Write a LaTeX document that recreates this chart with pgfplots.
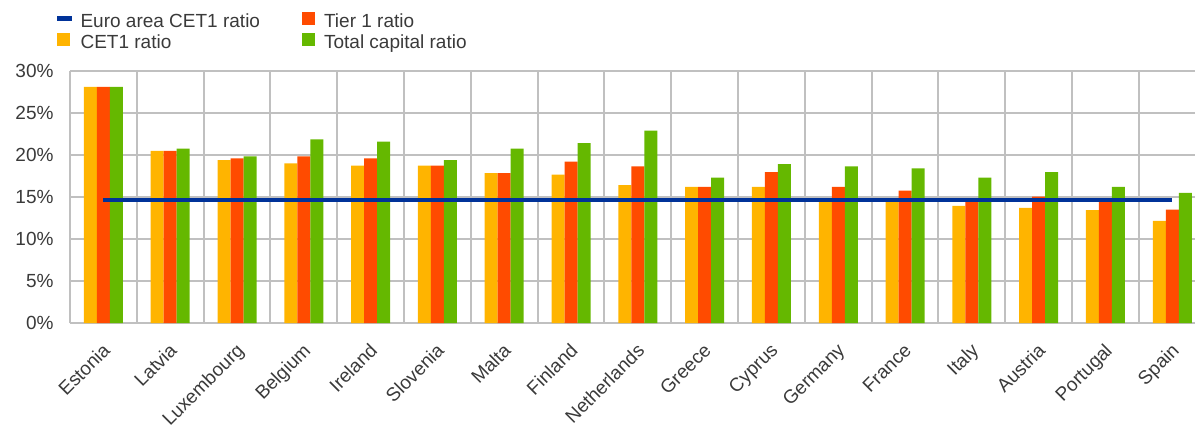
\documentclass[border=0pt]{standalone}
\usepackage{pgfplots}
\pgfplotsset{compat=1.18}
\usepackage{pgfplotstable}
\usepackage{fontspec}
\setmainfont{Liberation Sans}

\definecolor{ecbblue}{HTML}{003299}
\definecolor{ecbyellow}{HTML}{FFB400}
\definecolor{ecbred}{HTML}{FF4B00}
\definecolor{ecbgreen}{HTML}{65B800}
\definecolor{gridgray}{HTML}{C0C0C0}
\definecolor{txt}{HTML}{3A3A3A}

% capital ratios (%), one row per country
\pgfplotstableread{
x  cet1   tier1  total
0  28.1   28.1   28.1
1  20.5   20.5   20.75
2  19.4   19.6   19.85
3  19.0   19.85  21.85
4  18.75  19.6   21.6
5  18.75  18.75  19.4
6  17.85  17.85  20.75
7  17.65  19.2   21.4
8  16.4   18.65  22.9
9  16.2   16.2   17.3
10 16.2   17.95  18.9
11 14.55  16.2   18.65
12 14.55  15.75  18.4
13 13.95  14.6   17.3
14 13.7   15.05  17.95
15 13.45  14.6   16.2
16 12.15  13.5   15.5
}\capital

\newcommand{\fs}{\fontsize{19bp}{22bp}\selectfont}

\begin{document}
\begin{tikzpicture}
\useasboundingbox (-70bp,-102bp) rectangle (1125bp,323bp);
\begin{axis}[
    at={(0,0)}, anchor=south west,
    scale only axis, width=1125bp, height=252bp,
    xmin=-0.5, xmax=16.34, ymin=0, ymax=30,
    xtick={0,...,16},
    xticklabels={Estonia,Latvia,Luxembourg,Belgium,Ireland,Slovenia,Malta,Finland,Netherlands,Greece,Cyprus,Germany,France,Italy,Austria,Portugal,Spain},
    minor xtick={-0.5,0.5,...,15.5},
    ytick={0,5,...,30},
    yticklabel={\pgfmathprintnumber{\tick}\%},
    /pgf/number format/assume math mode=true,
    xminorgrids=true, ymajorgrids=true,
    grid style={gridgray, line width=2bp},
    minor grid style={gridgray, line width=2bp},
    axis line style={draw=none},
    tick style={draw=none}, major tick length=0pt, minor tick length=0pt,
    ticklabel style={font=\fs, text=txt},
    yticklabel style={xshift=-13bp},
    xticklabel style={xshift=-2bp, yshift=-19bp, rotate=45, anchor=north east, inner sep=0pt},
    legend columns=2, transpose legend,
    legend cell align=left,
    legend style={at={(-0.0116,1.236)}, anchor=north west, draw=none, fill=none,
        font=\fs, text=txt, inner sep=0pt, row sep=0bp,
        nodes={inner xsep=9bp, inner ysep=1bp, text height=14bp, text depth=4bp},
        /tikz/every even column/.append style={column sep=33bp}},
]
\addlegendimage{legend image code/.code={\fill[ecbblue] (0bp,3bp) rectangle (14bp,7bp);}}
\addlegendentry{Euro area CET1 ratio}
\addplot[ybar, bar width=13bp, bar shift=-13bp, fill=ecbyellow, draw=none,
    area legend, legend image code/.code={\fill[ecbyellow] (0bp,-2bp) rectangle (13bp,11bp);}]
    table[x=x, y=cet1] {\capital};
\addlegendentry{CET1 ratio}
\addplot[ybar, bar width=13bp, bar shift=0bp, fill=ecbred, draw=none,
    area legend, legend image code/.code={\fill[ecbred] (0bp,-2bp) rectangle (13bp,11bp);}]
    table[x=x, y=tier1] {\capital};
\addlegendentry{Tier 1 ratio}
\addplot[ybar, bar width=13bp, bar shift=13bp, fill=ecbgreen, draw=none,
    area legend, legend image code/.code={\fill[ecbgreen] (0bp,-2bp) rectangle (13bp,11bp);}]
    table[x=x, y=total] {\capital};
\addlegendentry{Total capital ratio}
\addplot[ecbblue, line width=4bp, forget plot] coordinates {(0,14.6) (16,14.6)};
\end{axis}
\end{tikzpicture}
\end{document}
